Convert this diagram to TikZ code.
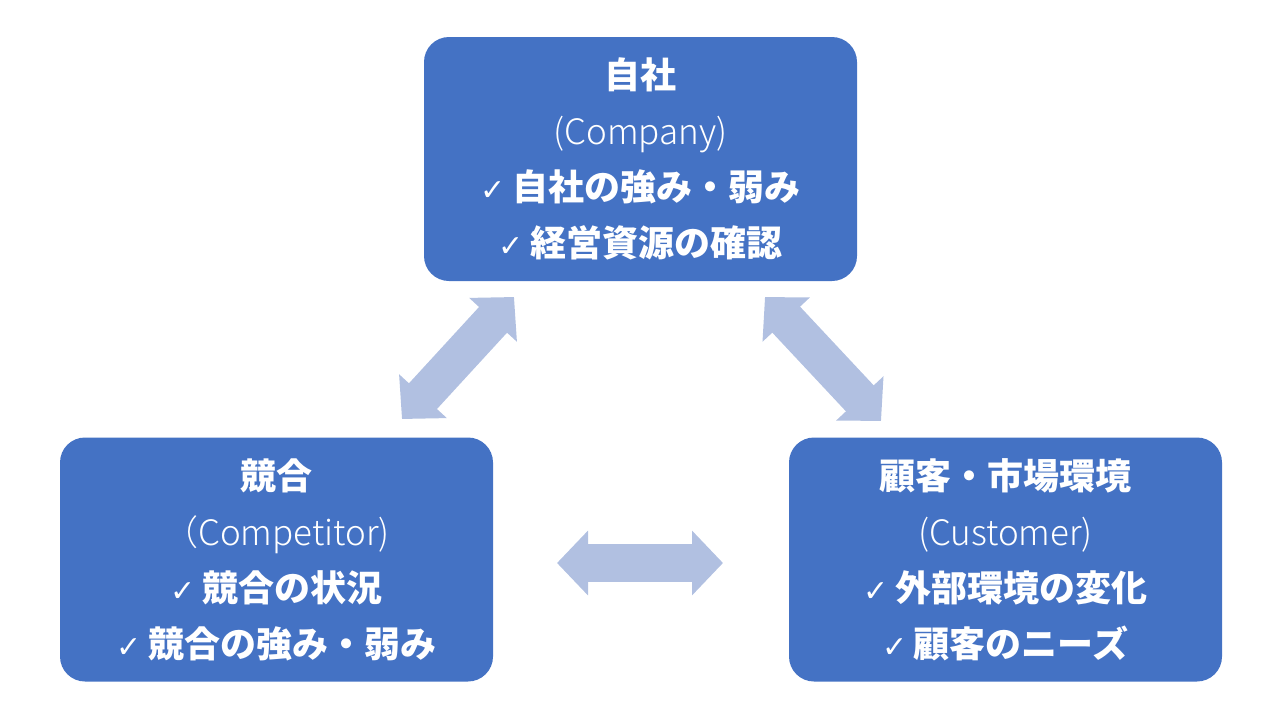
\documentclass[tikz,border=0pt]{standalone}
\usepackage{fontspec}
\usetikzlibrary{arrows.meta}
\newfontfamily\jp{Noto Sans CJK JP}
\newfontfamily\jplight{Noto Sans CJK JP Light}
\newfontfamily\dv{DejaVu Sans}
\definecolor{boxblue}{HTML}{4472C4}
\definecolor{arrowblue}{HTML}{B1C0E1}
\newcommand{\chk}{{\dv\mdseries\fontsize{30}{30}\selectfont ✓}\,}
\tikzset{
  box/.style={rectangle, rounded corners=25pt, fill=boxblue, draw=none,
    minimum width=433pt, minimum height=244pt, inner sep=0pt,
    text=white, align=center, font=\jp\bfseries\fontsize{36}{56}\selectfont},
  dblarrow/.style={draw=arrowblue, line width=38pt,
    {Triangle[length=31pt,width=63pt]}-{Triangle[length=31pt,width=63pt]}}
}
\newcommand{\en}[1]{{\jplight\mdseries\fontsize{35}{56}\selectfont #1}}
\begin{document}
\begin{tikzpicture}[x=1pt,y=-1pt]
\useasboundingbox (0,0) rectangle (1280,720);
\node[box] (company) at (640.5,159) {自社\\\en{(Company)}\\\chk 自社の強み・弱み\\\chk 経営資源の確認};
\node[box] (competitor) at (276.5,559.5) {競合\\\en{（Competitor)}\\\chk 競合の状況\\\chk 競合の強み・弱み};
\node[box] (customer) at (1005.5,559.5) {顧客・市場環境\\\en{(Customer)}\\\chk 外部環境の変化\\\chk 顧客のニーズ};
\coordinate (l1) at (402,419);
\coordinate (l2) at (514,297);
\coordinate (r1) at (765,297);
\coordinate (r2) at (881,421);
\coordinate (b1) at (557,563);
\coordinate (b2) at (723,563);
\draw[dblarrow] (l1) -- (l2);
\draw[dblarrow] (r1) -- (r2);
\draw[dblarrow] (b1) -- (b2);
\end{tikzpicture}
\end{document}
